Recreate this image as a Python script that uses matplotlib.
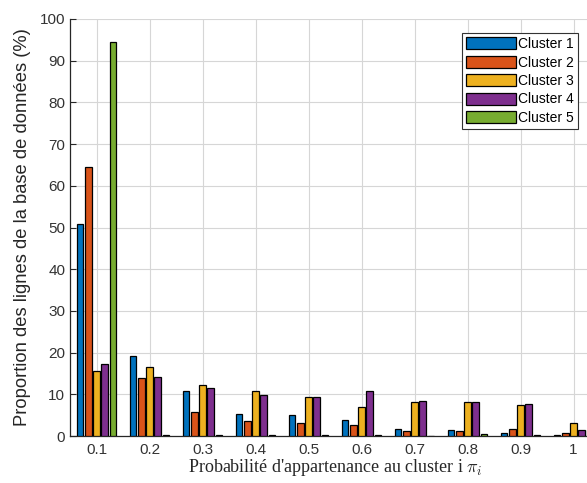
import matplotlib.pyplot as plt
import numpy as np
from matplotlib.patches import Patch

# probability bins and share of rows (%) per cluster
probs = [0.1, 0.2, 0.3, 0.4, 0.5, 0.6, 0.7, 0.8, 0.9, 1.0]
tick_labels = ["0.1", "0.2", "0.3", "0.4", "0.5", "0.6", "0.7", "0.8", "0.9", "1"]
cluster_names = ["Cluster 1", "Cluster 2", "Cluster 3", "Cluster 4", "Cluster 5"]
cluster1 = [50.8, 19.3, 10.9, 5.3, 5.0, 3.8, 1.7, 1.4, 0.6, 0.2]
cluster2 = [64.6, 14.0, 5.8, 3.5, 3.2, 2.6, 1.2, 1.2, 1.7, 0.6]
cluster3 = [15.7, 16.6, 12.3, 10.9, 9.4, 7.0, 8.2, 8.2, 7.4, 3.2]
cluster4 = [17.3, 14.2, 11.4, 9.8, 9.4, 10.9, 8.5, 8.2, 7.7, 1.4]
cluster5 = [94.4, 0.2, 0.3, 0.2, 0.2, 0.2, 0.1, 0.5, 0.2, 1.4]

colors = ["#0072BD", "#D95319", "#EDB120", "#7E2F8E", "#77AC30"]
plt.rcParams["mathtext.fontset"] = "cm"

fig = plt.figure(figsize=(5.87, 4.83), dpi=100)
ax = fig.add_axes([70 / 587, 47 / 483, 530 / 587, 417 / 483])

series = [cluster1, cluster2, cluster3, cluster4, cluster5]
n = len(series)
group_w = 0.1 * min(0.8, n / (n + 1.5))
slot = group_w / n
x = np.array(probs)
for i, vals in enumerate(series):
    offs = (i - (n - 1) / 2) * slot
    ax.bar(x + offs, vals, width=slot * 0.8, color=colors[i],
           edgecolor="black", linewidth=0.9, zorder=3)

ax.set_xlim(0.05, 1.05)
ax.set_ylim(0, 100)
ax.set_xticks(probs)
ax.set_xticklabels(tick_labels)
ax.set_yticks(np.arange(0, 101, 10))

ax.grid(True, color="#d6d6d6", linewidth=0.8, zorder=0)
ax.set_axisbelow(True)
ax.tick_params(direction="in", length=4, labelsize=11, colors="#262626",
               labelcolor="#333333", top=False, right=False)
ax.tick_params(axis="x", pad=5)
for s in ["top", "right"]:
    ax.spines[s].set_visible(False)
for s in ["left", "bottom"]:
    ax.spines[s].set_color("#262626")
    ax.spines[s].set_linewidth(0.9)

for lbl in ax.get_xticklabels() + ax.get_yticklabels():
    lbl.set_family(["Liberation Sans", "DejaVu Sans"])

ax.set_ylabel("Proportion des lignes de la base de données (%)",
              fontsize=13.2, family=["Liberation Sans", "DejaVu Sans"],
              color="#262626", labelpad=6)
ax.set_xlabel(r"Probabilité d'appartenance au cluster i $\pi_i$", fontsize=13,
              family=["Liberation Serif", "DejaVu Serif"],
              math_fontfamily="cm", color="#262626", labelpad=0)

handles = [Patch(facecolor=c, edgecolor="black", linewidth=0.9) for c in colors]
leg = fig.legend(handles, cluster_names, loc="upper left",
                 bbox_to_anchor=(462 / 587, 1 - 33 / 483),
                 prop={"family": ["Liberation Sans", "DejaVu Sans"], "size": 10},
                 handlelength=3.6, handleheight=0.95, handletextpad=0.15,
                 labelspacing=0.32, borderpad=0.3, borderaxespad=0,
                 fancybox=False, framealpha=1, edgecolor="#333333")
leg.get_frame().set_linewidth(0.8)

fig.savefig("out.png", dpi=100)
